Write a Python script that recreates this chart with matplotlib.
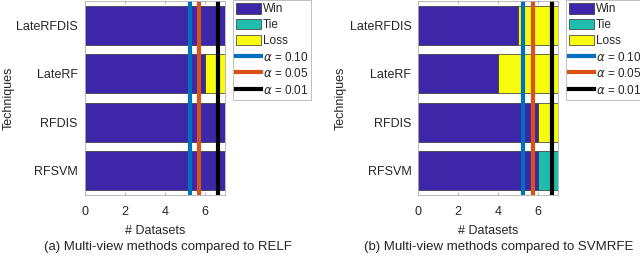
import numpy as np
import matplotlib.pyplot as plt
from matplotlib.patches import Patch
from matplotlib.lines import Line2D

plt.rcParams['font.family'] = ['Liberation Sans', 'DejaVu Sans']

techniques = ['LateRFDIS', 'LateRF', 'RFDIS', 'RFSVM']

# panel (a): compared to RELF
win_a = [7, 6, 7, 7]
tie_a = [0, 0, 0, 0]
loss_a = [0, 1, 0, 0]

# panel (b): compared to SVMRFE
win_b = [5, 4, 6, 6]
tie_b = [0, 0, 0, 1]
loss_b = [2, 3, 1, 0]

alpha_vals = [0.10, 0.05, 0.01]
alpha_crit = [5.24, 5.73, 6.66]

captions = ['(a) Multi-view methods compared to RELF',
            '(b) Multi-view methods compared to SVMRFE']

c_win = '#3e26a8'
c_tie = '#1fbdb0'
c_loss = '#f9fb0e'
line_cols = ['#0072bd', '#d95319', '#000000']
txt = '#262626'
fs = 9

fig = plt.figure(figsize=(6.4, 2.6), dpi=100)

panels = [(win_a, tie_a, loss_a), (win_b, tie_b, loss_b)]
lefts = [84.7 / 640, 418.3 / 640]
leg_x = [233 / 640, 566 / 640]
cap_x = [168 / 640, 499 / 640]
ylab_x = [15, 347]

for k, (win, tie, loss) in enumerate(panels):
    ax = fig.add_axes([lefts[k], 65 / 260, 140 / 640, 194 / 260])
    y = np.arange(len(techniques))[::-1] + 1
    win = np.array(win)
    tie = np.array(tie)
    loss = np.array(loss)
    kw = dict(height=0.8, edgecolor='#303030', linewidth=0.5)
    ax.barh(y, win, color=c_win, **kw)
    ax.barh(y, tie, left=win, color=c_tie, **kw)
    ax.barh(y, loss, left=win + tie, color=c_loss, **kw)
    for a, xc, col in zip(alpha_vals, alpha_crit, line_cols):
        ax.axvline(xc, color=col, lw=3)
    ax.set_xlim(0, 7)
    ax.set_ylim(0.5, 4.5)
    ax.set_xticks([0, 2, 4, 6])
    ax.set_yticks(y)
    ax.set_yticklabels(techniques)
    ax.tick_params(direction='in', length=2, width=0.5, color='#a0a0a0',
                   labelsize=fs, labelcolor=txt, top=True, pad=8)
    ax.tick_params(axis='y', length=0, pad=5)
    for s in ax.spines.values():
        s.set_color('#b0b0b0')
        s.set_linewidth(0.6)
    ax.set_xlabel('# Datasets', fontsize=fs, color=txt, labelpad=5)
    ax.set_ylabel('Techniques', fontsize=fs, color=txt)
    ax.yaxis.set_label_coords(ylab_x[k] / 640, (260 - 98) / 260, transform=fig.transFigure)

    handles = [Patch(facecolor=c_win, edgecolor='#303030', lw=0.5),
               Patch(facecolor=c_tie, edgecolor='#303030', lw=0.5),
               Patch(facecolor=c_loss, edgecolor='#303030', lw=0.5)]
    labels = ['Win', 'Tie', 'Loss']
    for a, col in zip(alpha_vals, line_cols):
        handles.append(Line2D([0], [0], color=col, lw=3))
        labels.append(r'$\alpha$ = %.2f' % a)
    leg = fig.legend(handles, labels, loc='upper left',
                     bbox_to_anchor=(leg_x[k], 1.0), bbox_transform=fig.transFigure,
                     fontsize=8.5, frameon=True, fancybox=False, borderaxespad=0,
                     handlelength=2.1, handleheight=1.0, handletextpad=0.15,
                     labelspacing=0.3, borderpad=0.25)
    leg.get_frame().set_edgecolor('#a0a0a0')
    leg.get_frame().set_linewidth(0.6)
    for t in leg.get_texts():
        t.set_color(txt)

    fig.text(cap_x[k], 13 / 260, captions[k], fontsize=9.5, color=txt,
             ha='center', va='center')

fig.savefig('out.png', dpi=100)
